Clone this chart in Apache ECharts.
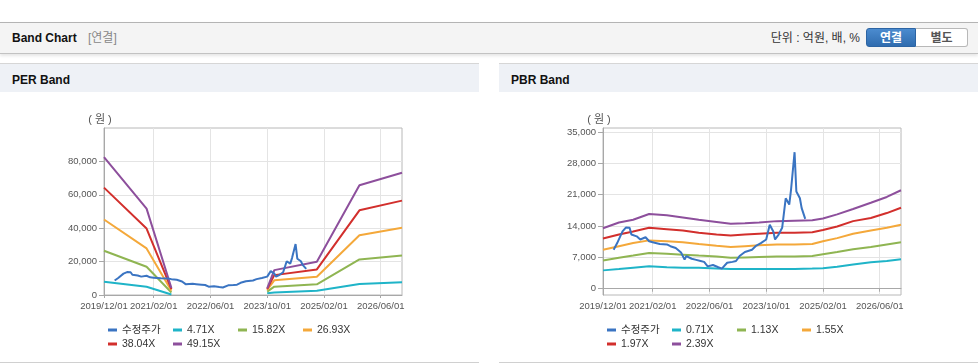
<!DOCTYPE html>
<html><head><meta charset="utf-8">
<script src="https://cdn.jsdelivr.net/npm/echarts@6/dist/echarts.min.js"></script>
<style>
body{margin:0;width:978px;height:364px;position:relative;overflow:hidden;background:#fff;font-family:'Liberation Sans','Noto Sans CJK KR',Arial,sans-serif;color:#222;}
.abs{position:absolute;}
#hdr{left:0;top:22px;width:978px;height:30px;background:#f4f4f4;border-top:1px solid #b4b4b4;border-bottom:1px solid #c2c2c2;box-shadow:0 2px 3px rgba(0,0,0,0.10);}
#hdr .t{left:12px;top:0;line-height:30px;font-size:12px;font-weight:bold;color:#111;}
#hdr .s{left:88px;top:0;line-height:30px;font-size:12px;color:#888;}
#hdr .u{right:118px;top:0;line-height:30px;font-size:12px;color:#333;}
.btn{top:5px;height:19px;width:50px;line-height:19px;text-align:center;font-size:12px;font-weight:bold;box-sizing:border-box;}
#b1{left:866px;background:linear-gradient(#4b8bcf,#2f6caf);color:#fff;border:1px solid #2c64a3;border-radius:3px 0 0 3px;}
#b2{left:916px;width:52px;background:#fff;color:#555;border:1px solid #b8b8b8;border-left:none;border-radius:0 3px 3px 0;}
.ph{height:28px;background:#eef1f6;border-top:1px solid #d6d6d6;top:63px;width:479px;}
.ph span{position:absolute;left:12px;top:2px;line-height:28px;font-size:12px;font-weight:bold;color:#111;}
.pb{top:362px;height:1px;width:479px;background:#d0d0d0;}
.ch{top:93px;width:479px;height:269px;}
</style></head>
<body>
<div id="hdr" class="abs">
  <span class="abs t">Band Chart</span>
  <span class="abs s">[연결]</span>
  <span class="abs u">단위 : 억원, 배, %</span>
  <div id="b1" class="abs btn">연결</div>
  <div id="b2" class="abs btn">별도</div>
</div>
<div class="abs ph" style="left:0"><span>PER Band</span></div>
<div class="abs ph" style="left:499px"><span>PBR Band</span></div>
<div id="per" class="abs ch" style="left:0"></div>
<div id="pbr" class="abs ch" style="left:499px"></div>
<div class="abs pb" style="left:0"></div>
<div class="abs pb" style="left:499px"></div>
<script>
// ---- axis labels ----
const xTickLabels = ['2019/12/01','2021/02/01','2022/06/01','2023/10/01','2025/02/01','2026/06/01'];
const perYTicks = [0, 20000, 40000, 60000, 80000];
const pbrYTicks = [0, 7000, 14000, 21000, 28000, 35000];
const colors = ['#3a74c2', '#1fb4c8', '#8fb552', '#f4a83a', '#d22f2c', '#8d4f9c'];

// ---- 수정주가 (adjusted price) ----
const priceDates = ['2020/03/01','2020/04/01','2020/05/16','2020/06/16','2020/07/16','2020/08/01','2020/09/16','2020/10/16','2020/11/01','2020/12/01',
  '2021/01/01','2021/02/01','2021/04/01','2021/06/01','2021/07/01','2021/08/16','2021/10/01','2021/11/01','2021/11/16',
  '2022/01/01','2022/02/01','2022/03/16','2022/04/16','2022/05/16','2022/07/01','2022/08/16','2022/09/16','2022/11/01','2022/12/16',
  '2023/01/16','2023/02/16','2023/04/01','2023/04/16','2023/06/01','2023/07/01','2023/08/16','2023/10/01','2023/11/01','2023/12/01','2023/12/16',
  '2024/01/16','2024/02/16','2024/03/16','2024/04/16','2024/05/01','2024/06/01','2024/06/16','2024/07/16','2024/08/01','2024/09/01'];
const priceValues = [8700,10200,12800,13700,13600,12100,11700,11000,11300,11500,
  10600,10400,10000,9900,9500,9100,8100,6500,7300,
  6700,6500,6200,6000,5000,5300,4800,4500,5800,6000,
  6200,7300,8200,8000,8700,9500,10200,11000,14300,12800,11000,
  12100,13600,20200,18800,22100,30500,21700,20200,18000,15600];

// ---- PER band ----
const perNames = ['4.71X','15.82X','26.93X','38.04X','49.15X'];
const perBandDates = ['2019/12/01','2020/12/01','2021/07/01','2022/01/01','2023/10/01','2023/12/01','2024/12/01','2025/12/01','2026/12/01'];
const per471 = [7900, 4900, 300, null, 1000, 1500, 2600, 6600, 7600];
const per1582 = [26500, 16900, 1500, null, 2000, 5000, 6400, 21300, 23600];
const per2693 = [45200, 27900, 2500, null, 3000, 8800, 10900, 35800, 40300];
const per3804 = [64300, 39800, 3500, null, 3500, 11900, 15300, 50700, 56500];
const per4915 = [82600, 51700, 4200, null, 4000, 14900, 19900, 65700, 73200];

// ---- PBR band ----
const pbrNames = ['0.71X','1.13X','1.55X','1.97X','2.39X'];
const pbrBandDates = ['2019/12/01','2020/04/16','2020/08/16','2021/01/01','2021/06/01','2021/10/16','2022/03/01','2022/08/01','2022/12/01','2023/04/01',
  '2023/08/01','2024/01/01','2024/06/01','2024/11/01','2025/02/01','2025/06/01','2025/10/16','2026/03/16','2026/08/01','2026/12/01'];
const pbr071 = [4100,4400,4700,5000,4800,4700,4700,4500,4400,4400,4400,4400,4400,4500,4600,4900,5400,5900,6200,6600];
const pbr113 = [6300,6900,7400,8000,7800,7600,7400,7200,6900,7000,7100,7200,7200,7300,7700,8200,8800,9300,9900,10400];
const pbr155 = [8700,9500,10200,10800,10600,10400,10000,9600,9300,9500,9700,9900,9900,10000,10600,11300,12300,13000,13600,14300];
const pbr197 = [11200,12100,12800,13600,13300,13000,12500,12100,11900,12100,12300,12500,12500,12600,13100,13900,15100,15800,16900,18100];
const pbr239 = [13500,14800,15400,16700,16400,15900,15400,14900,14500,14600,14800,15100,15200,15300,15700,16600,17800,19200,20500,22000];

// monthly + mid-month category axis 2019/12/01 .. 2026/12/01
const xCats = [];
for (let m = 0; m <= 84; m++) {
  const y = 2019 + Math.floor((11 + m) / 12);
  const mo = String((11 + m) % 12 + 1).padStart(2, '0');
  xCats.push(y + '/' + mo + '/01');
  if (m < 84) xCats.push(y + '/' + mo + '/16');
}
const isTick = (i, v) => xTickLabels.indexOf(v) >= 0;
const zip = (d, v) => d.map((x, i) => [x, v[i] == null ? '-' : v[i]]);
const fmt = v => Number(v).toLocaleString('en-US');
const axisFont = "'Liberation Sans', Arial, sans-serif";

function makeOption(names, bandDates, bands, yMin, yMax, yTicks) {
  const series = bands.map((vals, i) => ({
    name: names[i], type: 'line', data: zip(bandDates, vals), symbol: 'none',
    lineStyle: {width: 2, color: colors[i + 1]}, itemStyle: {color: colors[i + 1]}, z: 2
  }));
  series.push({
    name: '수정주가', type: 'line', data: zip(priceDates, priceValues), symbol: 'none',
    lineStyle: {width: 2, color: colors[0]}, itemStyle: {color: colors[0]}, z: 5
  });
  return {
    animation: false,
    grid: {left: 104, top: 35, width: 298, height: 167, show: true, borderColor: '#b8b8b8', borderWidth: 1},
    legend: {
      data: ['수정주가'].concat(names), left: 108, top: 230, width: 262, itemGap: 0, padding: 0,
      icon: 'rect', itemWidth: 9, itemHeight: 3,
      textStyle: {fontSize: 10.5, color: '#333', width: 51, overflow: 'truncate', lineHeight: 14,
        fontFamily: "'Liberation Sans','Noto Sans CJK KR',Arial,sans-serif"}
    },
    xAxis: {
      type: 'category', data: xCats, boundaryGap: false,
      axisLine: {lineStyle: {color: '#a8a8a8'}},
      axisTick: {show: true, length: 3, interval: isTick, lineStyle: {color: '#a8a8a8'}},
      axisLabel: {interval: isTick, margin: 6, color: '#555', fontSize: 9.5, fontFamily: axisFont},
      splitLine: {show: true, interval: isTick, lineStyle: {color: '#e4e4e4'}}
    },
    yAxis: {
      type: 'value', min: yMin, max: yMax,
      name: '( 원 )', nameLocation: 'end', nameGap: 3,
      nameTextStyle: {color: '#555', fontSize: 11, padding: [0, 8, 0, 0], fontFamily: "'Liberation Sans','Noto Sans CJK KR',sans-serif"},
      axisLine: {show: true, lineStyle: {color: '#a8a8a8'}},
      axisTick: {show: true, length: 5, customValues: yTicks, lineStyle: {color: '#a8a8a8'}},
      axisLabel: {customValues: yTicks, margin: 7, color: '#555', fontSize: 9.5, fontFamily: axisFont, formatter: fmt},
      splitLine: {show: true, lineStyle: {color: '#e4e4e4'}}
    },
    series: series
  };
}

echarts.init(document.getElementById('per')).setOption(
  makeOption(perNames, perBandDates, [per471, per1582, per2693, per3804, per4915], 0, 100000, perYTicks));
echarts.init(document.getElementById('pbr')).setOption(
  makeOption(pbrNames, pbrBandDates, [pbr071, pbr113, pbr155, pbr197, pbr239], -1400, 35900, pbrYTicks));
</script>
</body></html>
